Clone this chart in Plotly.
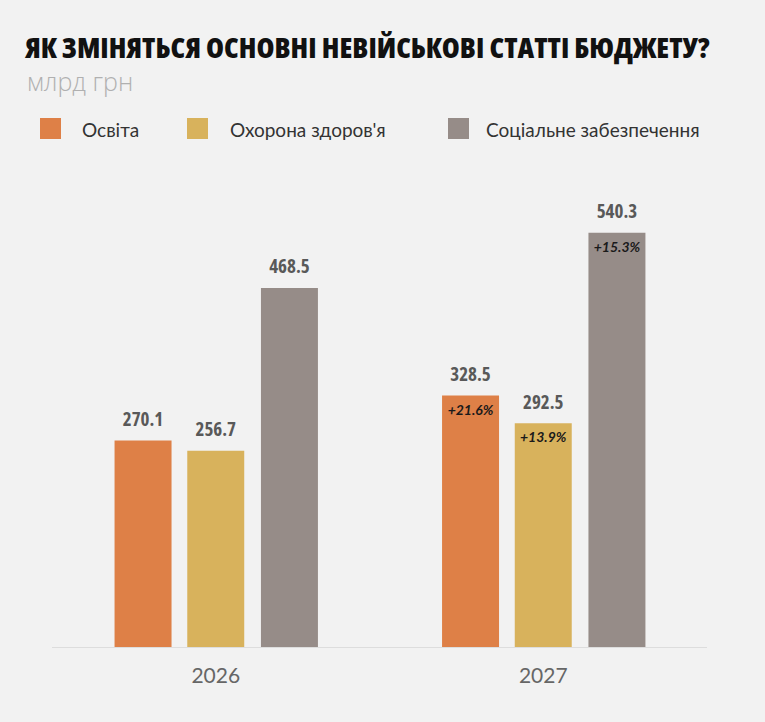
import plotly.graph_objects as go

# chart data
years = ["2026", "2027"]
series_names = ["Освіта", "Охорона здоров'я", "Соціальне забезпечення"]
osvita = [270.1, 328.5]
zdorovia = [256.7, 292.5]
social = [468.5, 540.3]
growth_2027 = ["+21.6%", "+13.9%", "+15.3%"]

colors = ["#DE8047", "#D8B25C", "#968C88"]
bg = "#F2F2F2"
narrow = "Open Sans"

W, H = 765, 722
left, right, top, bottom = 52, 58, 190, 74
plot_w = W - left - right
plot_h = H - top - bottom


def px_x(px):
    # page pixel -> paper x
    return (px - left) / plot_w


def px_y(py):
    # page pixel -> paper y
    return (H - bottom - py) / plot_h


fig = go.Figure()
offsets = [-0.222, 0.0, 0.225]
bar_w = 0.174
xs_year = list(range(len(years)))

for name, vals, off, col in zip(series_names, [osvita, zdorovia, social], offsets, colors):
    xs = [x + off for x in xs_year]
    fig.add_trace(go.Bar(x=xs, y=vals, width=bar_w, name=name,
                         marker=dict(color=col, line=dict(width=0)),
                         showlegend=False, hoverinfo="skip"))
    # value labels above bars
    fig.add_trace(go.Scatter(x=xs, y=vals, mode="markers+text",
                             text=[f"{v:.1f}" for v in vals], textposition="top center",
                             marker=dict(size=14, opacity=0),
                             textfont=dict(family=narrow, size=19, color="#595959", weight=700),
                             showlegend=False, hoverinfo="skip", cliponaxis=False))

# growth labels inside the 2027 bars
last = [osvita[-1], zdorovia[-1], social[-1]]
fig.add_trace(go.Scatter(x=[xs_year[-1] + o for o in offsets], y=last, mode="markers+text",
                         text=[f"<b><i>{g}</i></b>" for g in growth_2027],
                         textposition="bottom center",
                         marker=dict(size=12, opacity=0),
                         textfont=dict(family="Lato", size=14, color="#1a1a1a"),
                         showlegend=False, hoverinfo="skip", cliponaxis=False))

# legend drawn by hand (big square swatches)
shapes = []
annotations = []
for name, col, sx, tx in zip(series_names, colors, [40, 187, 448], [80, 228, 484]):
    shapes.append(dict(type="rect", xref="paper", yref="paper",
                       x0=px_x(sx), x1=px_x(sx + 21), y0=px_y(139), y1=px_y(118),
                       fillcolor=col, line=dict(width=0)))
    annotations.append(dict(text=name, xref="paper", yref="paper", x=px_x(tx), y=px_y(129),
                            xanchor="left", yanchor="middle", showarrow=False,
                            font=dict(family="Lato", size=19, color="#333333")))

annotations.append(dict(text="млрд грн", xref="paper", yref="paper", x=px_x(25), y=px_y(81),
                        xanchor="left", yanchor="middle", showarrow=False,
                        font=dict(family="Open Sans", size=25, color="#B0B0B0", weight=300)))

fig.update_layout(
    width=W, height=H,
    paper_bgcolor=bg, plot_bgcolor=bg,
    margin=dict(l=left, r=right, t=top, b=bottom),
    barmode="overlay",
    title=dict(text="ЯК ЗМІНЯТЬСЯ ОСНОВНІ НЕВІЙСЬКОВІ СТАТТІ БЮДЖЕТУ?",
               xref="container", yref="container", x=25 / W, y=1 - 48 / H,
               xanchor="left", yanchor="middle",
               font=dict(family=narrow, size=29, color="#111111", weight=800)),
    shapes=shapes,
    annotations=annotations,
    xaxis=dict(range=[-0.5, 1.5], tickvals=xs_year, ticktext=years, showgrid=False,
               zeroline=False, showline=False, ticks="", ticklabelstandoff=13,
               tickfont=dict(family="Lato", size=21, color="#666666")),
    yaxis=dict(range=[0, 596], visible=False, showgrid=False, zeroline=False),
)
fig.add_hline(y=0, line=dict(color="#DDDDDD", width=2))

# no page margin, condensed faces for the title and the value labels
css = ("document.body.style.margin='0';"
       "var s=document.createElement('style');"
       "s.textContent='.gtitle, .textpoint text{font-stretch:75% !important;}';"
       "document.head.appendChild(s);")
fig.write_html("out.html", config={"displayModeBar": False}, post_script=css)
